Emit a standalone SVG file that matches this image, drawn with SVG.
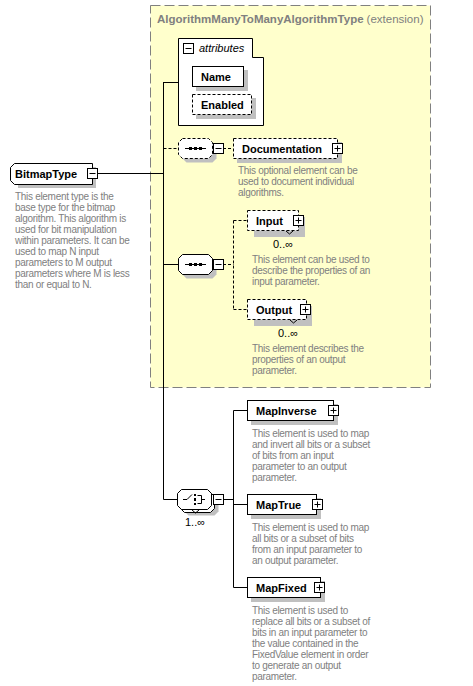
<svg xmlns="http://www.w3.org/2000/svg" width="473" height="686" viewBox="0 0 473 686">
<style>
  .lbl { font-family: "Liberation Sans", Arial, sans-serif; font-size: 11px; font-weight: bold; fill: #000; }
  .desc { font-family: "Liberation Sans", Arial, sans-serif; font-size: 10px; letter-spacing: -0.3px; fill: #808080; }
  .occ { font-family: "Liberation Sans", Arial, sans-serif; font-size: 11px; fill: #000; }
  .box { fill: #fff; stroke: #000; stroke-width: 1; }
  .dbox { fill: #fff; stroke: #000; stroke-width: 1; stroke-dasharray: 3 2; }
  .shadow { fill: #c0c0c0; }
  .ln { fill: none; stroke: #000; stroke-width: 1; }
  .dln { fill: none; stroke: #000; stroke-width: 1; stroke-dasharray: 3 2; }
  .btn { fill: #fff; stroke: #000; stroke-width: 1; }
</style>
<defs>
  <g id="minus"><rect class="btn" x="0.5" y="0.5" width="10" height="10"/><path class="ln" d="M2.5 5.5 H8.5"/></g>
  <g id="plus"><rect class="btn" x="0.5" y="0.5" width="10" height="10"/><path class="ln" d="M2.5 5.5 H8.5 M5.5 2.5 V8.5"/></g>
  <path id="oct" d="M4.5 0.5 H30.5 L34.5 4.5 V16.5 L30.5 20.5 H4.5 L0.5 16.5 V4.5 Z"/>
</defs>
<rect width="473" height="686" fill="#fff"/>

<g id="extension">
  <rect x="150.5" y="5.5" width="280" height="382" fill="#ffffcc" stroke="#808080" stroke-width="1" stroke-dasharray="10 4"/>
  <text x="157" y="23" font-family="Liberation Sans, Arial, sans-serif" font-size="11.5" font-weight="bold" fill="#808080">AlgorithmManyToManyAlgorithmType<tspan font-weight="normal" dx="3">(extension)</tspan></text>
</g>

<g id="connectors">
  <path class="ln" d="M98 173.5 H163.5 M163.5 82 V499.5 M163.5 82.5 H178 M163.5 264.5 H178 M163.5 499.5 H177"/>
  <path class="dln" d="M163.5 148.5 H178 M223 148.5 H233"/>
  <path class="dln" d="M223 264.5 H233.5 M233.5 220.5 V309.5 M233.5 220.5 H247 M233.5 309.5 H247"/>
  <path class="ln" d="M223 499.5 H233.5 M233.5 410.5 V587.5 M233.5 410.5 H247 M233.5 504.5 H247 M233.5 587.5 H247"/>
</g>

<g id="BitmapType">
  <path class="shadow" d="M18 167 H96 V188 H18 Z"/>
  <path class="box" d="M14.5 163.5 H92.5 V184.5 H14.5 L10.5 180.5 V167.5 Z"/>
  <text class="lbl" x="15" y="178">BitmapType</text>
  <use href="#minus" x="87" y="168"/>
  <text class="desc">
    <tspan x="15" y="200">This element type is the</tspan>
    <tspan x="15" y="211">base type for the bitmap</tspan>
    <tspan x="15" y="222">algorithm.  This algorithm is</tspan>
    <tspan x="15" y="233">used for bit manipulation</tspan>
    <tspan x="15" y="244">within parameters.  It can be</tspan>
    <tspan x="15" y="255">used to map N input</tspan>
    <tspan x="15" y="266">parameters to M output</tspan>
    <tspan x="15" y="277">parameters where M is less</tspan>
    <tspan x="15" y="288">than or equal to N.</tspan>
  </text>
</g>

<g id="attributes">
  <path class="box" d="M178.5 38.5 H252.5 V57.5 H263.5 V125.5 H178.5 Z"/>
  <use href="#minus" x="183" y="43"/>
  <text x="199" y="52" font-family="Liberation Sans, Arial, sans-serif" font-size="11" font-style="italic" fill="#000">attributes</text>
</g>

<g id="Name">
  <rect class="shadow" x="196" y="70" width="52" height="21"/>
  <rect class="box" x="192.5" y="66.5" width="51" height="20"/>
  <text class="lbl" x="201" y="80.5">Name</text>
</g>

<g id="Enabled">
  <rect class="shadow" x="196" y="98" width="60" height="21"/>
  <rect class="dbox" x="192.5" y="94.5" width="59" height="20"/>
  <text class="lbl" x="201" y="108.5">Enabled</text>
</g>

<g id="sequence1">
  <use href="#oct" x="182" y="142" class="shadow"/>
  <use href="#oct" x="178" y="138" class="dbox"/>
  <path class="ln" d="M185 148.5 H206"/>
  <rect x="189" y="147" width="3" height="3"/><rect x="194" y="147" width="3" height="3"/><rect x="199" y="147" width="3" height="3"/>
  <use href="#minus" x="213" y="143"/>
</g>

<g id="Documentation">
  <rect class="shadow" x="237" y="142" width="105" height="21"/>
  <rect class="dbox" x="233.5" y="138.5" width="104" height="20"/>
  <text class="lbl" x="242" y="152.5">Documentation</text>
  <use href="#plus" x="332" y="143"/>
  <text class="desc">
    <tspan x="238" y="174">This optional element can be</tspan>
    <tspan x="238" y="185">used to document individual</tspan>
    <tspan x="238" y="196">algorithms.</tspan>
  </text>
</g>

<g id="sequence2">
  <use href="#oct" x="182" y="258" class="shadow"/>
  <use href="#oct" x="178" y="254" class="box"/>
  <path class="ln" d="M185 264.5 H206"/>
  <rect x="189" y="263" width="3" height="3"/><rect x="194" y="263" width="3" height="3"/><rect x="199" y="263" width="3" height="3"/>
  <use href="#minus" x="213" y="259"/>
</g>

<g id="Input">
  <rect class="shadow" x="254" y="217" width="51" height="20"/>
  <rect class="dbox" x="247.5" y="210.5" width="51" height="20"/>
  <path class="ln" d="M286 231 L289.5 234 L293 231"/>
  <text class="lbl" x="256" y="224.5">Input</text>
  <use href="#plus" x="293" y="215"/>
  <text class="occ" x="273" y="248">0..∞</text>
  <text class="desc">
    <tspan x="252" y="263">This element can be used to</tspan>
    <tspan x="252" y="274">describe the properties of an</tspan>
    <tspan x="252" y="285">input parameter.</tspan>
  </text>
</g>

<g id="Output">
  <rect class="shadow" x="254" y="306" width="58" height="20"/>
  <rect class="dbox" x="247.5" y="299.5" width="59" height="20"/>
  <path class="ln" d="M290 320 L293.5 323 L297 320"/>
  <text class="lbl" x="256" y="314">Output</text>
  <use href="#plus" x="300" y="304"/>
  <text class="occ" x="278" y="337">0..∞</text>
  <text class="desc">
    <tspan x="252" y="352">This element describes the</tspan>
    <tspan x="252" y="363">properties of an output</tspan>
    <tspan x="252" y="374">parameter.</tspan>
  </text>
</g>

<g id="choice">
  <use href="#oct" x="184" y="495" class="shadow"/>
  <use href="#oct" x="180" y="492" class="box"/>
  <use href="#oct" x="177" y="489" class="box"/>
  <path class="ln" d="M192 510 L195.5 513 L199 510"/>
  <path class="ln" d="M183 499.5 H187 L192 494.5"/>
  <rect x="194" y="494" width="2" height="2"/><rect x="194" y="498" width="2" height="3"/><rect x="194" y="503" width="2" height="2"/>
  <path class="ln" d="M197.5 495.5 H201.5 V503.5 H197.5 M201.5 499.5 H205"/>
  <use href="#minus" x="213" y="494"/>
  <text class="occ" x="185" y="526">1..∞</text>
</g>

<g id="MapInverse">
  <rect class="shadow" x="251" y="404" width="87" height="21"/>
  <rect class="box" x="247.5" y="400.5" width="86" height="20"/>
  <text class="lbl" x="256" y="415">MapInverse</text>
  <use href="#plus" x="328" y="405"/>
  <text class="desc">
    <tspan x="252" y="437">This element is used to map</tspan>
    <tspan x="252" y="448">and invert all bits or a subset</tspan>
    <tspan x="252" y="459">of bits from an input</tspan>
    <tspan x="252" y="470">parameter to an output</tspan>
    <tspan x="252" y="481">parameter.</tspan>
  </text>
</g>

<g id="MapTrue">
  <rect class="shadow" x="251" y="498" width="70" height="21"/>
  <rect class="box" x="247.5" y="494.5" width="69" height="20"/>
  <text class="lbl" x="256" y="509">MapTrue</text>
  <use href="#plus" x="312" y="499"/>
  <text class="desc">
    <tspan x="252" y="531">This element is used to map</tspan>
    <tspan x="252" y="542">all bits or a subset of bits</tspan>
    <tspan x="252" y="553">from an input parameter to</tspan>
    <tspan x="252" y="564">an output parameter.</tspan>
  </text>
</g>

<g id="MapFixed">
  <rect class="shadow" x="251" y="581" width="74" height="21"/>
  <rect class="box" x="247.5" y="577.5" width="73" height="20"/>
  <text class="lbl" x="256" y="592">MapFixed</text>
  <use href="#plus" x="314" y="582"/>
  <text class="desc">
    <tspan x="252" y="614">This element is used to</tspan>
    <tspan x="252" y="625">replace all bits or a subset of</tspan>
    <tspan x="252" y="636">bits in an input parameter to</tspan>
    <tspan x="252" y="647">the value contained in the</tspan>
    <tspan x="252" y="658">FixedValue element in order</tspan>
    <tspan x="252" y="669">to generate an output</tspan>
    <tspan x="252" y="680">parameter.</tspan>
  </text>
</g>
</svg>
